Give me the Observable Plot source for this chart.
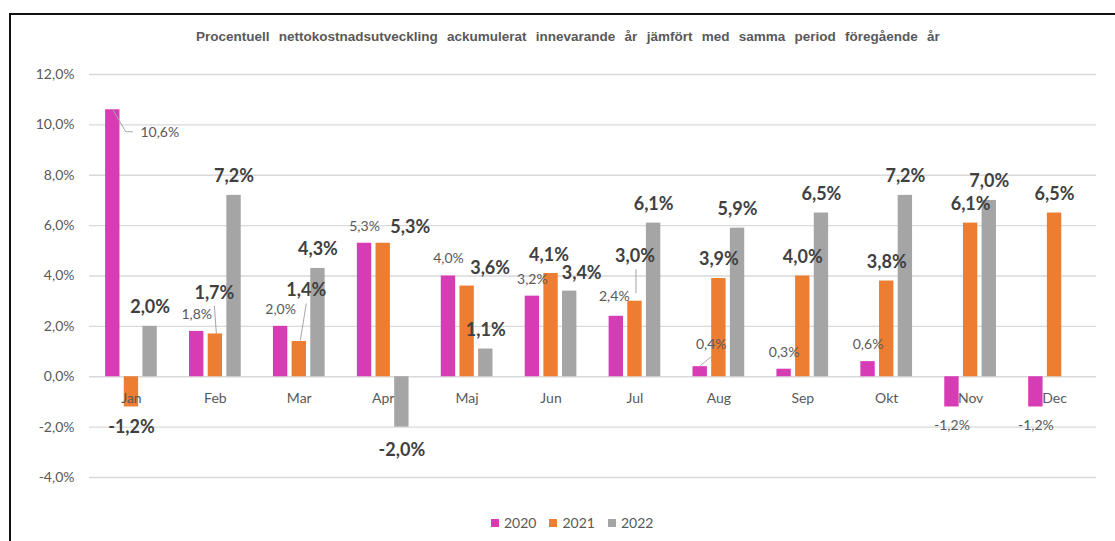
<!DOCTYPE html>
<html>
<head>
<meta charset="utf-8">
<script src="https://cdn.jsdelivr.net/npm/d3@7"></script>
<script src="https://cdn.jsdelivr.net/npm/@observablehq/plot@0.6"></script>
<style>
  body { margin: 0; background: #fff; }
  #wrap { position: relative; width: 1115px; height: 541px; overflow: hidden; background: #fff; }
  #wrap svg { position: absolute; left: 0; top: 0; background: transparent; }
  #frame { position: absolute; left: 9px; top: 13px; width: 1200px; height: 600px;
           border-left: 2px solid #111; border-top: 2px solid #111; }
  #title { position: absolute; left: 196px; top: 29px; white-space: nowrap;
           font-family: "Liberation Sans", Arial, sans-serif; font-weight: bold; font-size: 13.5px;
           color: #595959; word-spacing: 5.5px; }
  #legend { position: absolute; left: 491px; top: 514px; display: flex; align-items: center;
            font-family: Lato, sans-serif; font-size: 14px; color: #595959; }
  #legend .item { display: flex; align-items: center; margin-right: 13px; }
  #legend .sw { width: 8px; height: 8px; margin-right: 5px; }
</style>
</head>
<body>
<div id="wrap">
  <div id="frame"></div>
  <div id="title"></div>
  <div id="legend"></div>
</div>
<script>
// ---- data ----
const titleText = "Procentuell nettokostnadsutveckling ackumulerat innevarande år jämfört med samma period föregående år";
const months = ["Jan", "Feb", "Mar", "Apr", "Maj", "Jun", "Jul", "Aug", "Sep", "Okt", "Nov", "Dec"];
const years = ["2020", "2021", "2022"];
const v2020 = [10.6, 1.8, 2.0, 5.3, 4.0, 3.2, 2.4, 0.4, 0.3, 0.6, -1.2, -1.2];
const v2021 = [-1.2, 1.7, 1.4, 5.3, 3.6, 4.1, 3.0, 3.9, 4.0, 3.8, 6.1, 6.5];
const v2022 = [2.0, 7.2, 4.3, -2.0, 1.1, 3.4, 6.1, 5.9, 6.5, 7.2, 7.0, null];
const yTicks = [-4, -2, 0, 2, 4, 6, 8, 10, 12];
const colors = ["#D63CB4", "#ED7D31", "#A5A5A5"];

// label nudges in pixels (manually placed data labels, as in the original)
const labelNudges = {
  "Jan-2020": [47, 23], "Jul-2020": [-2, -20], "Aug-2020": [11, -22],
  "Feb-2021": [-1, -41], "Mar-2021": [7, -51], "Apr-2021": [27, -16], "Maj-2021": [23, -18],
  "Jun-2021": [-2, -18], "Jul-2021": [0, -45],
  "Jun-2022": [12, -18], "Apr-2022": [0, 23]
};
// leader lines: [start offset, end offset] in pixels from bar end
const leaderNudges = [
  ["Jan", "2020", [0, 0], [13, 22]],
  ["Jan", "2020", [13, 22], [20, 22]],
  ["Aug", "2020", [0, -1], [11, -10]],
  ["Feb", "2021", [1, 0], [-1, -28]],
  ["Mar", "2021", [1, -1], [7, -38]],
  ["Jul", "2021", [1, -8], [1, -32]]
];

// ---- build ----
const series = [v2020, v2021, v2022];
const rows = [];
months.forEach((m, i) => series.forEach((arr, j) => {
  if (arr[i] != null) rows.push({month: m, year: years[j], value: arr[i]});
}));
const valueOf = (m, y) => series[years.indexOf(y)][months.indexOf(m)];
const fmt = v => v.toFixed(1).replace(".", ",") + "%";

const W = 1115, H = 541;
const margins = {marginLeft: 89, marginRight: 19, marginTop: 74, marginBottom: 64};
const yScale = {domain: [-4, 12]};

// background: gridlines + y axis
const bg = Plot.plot({
  width: W, height: H, ...margins,
  style: {background: "transparent", fontFamily: "Lato", fontSize: "14px", color: "#595959"},
  y: {...yScale, ticks: yTicks, tickFormat: fmt, tickSize: 0, tickPadding: 15, label: null},
  marks: [
    Plot.ruleY(yTicks, {stroke: "#D9D9D9", strokeWidth: 1.3}),
    Plot.axisY(yTicks, {tickFormat: fmt, tickSize: 0, tickPadding: 15, label: null, fill: "#595959", fontSize: 14, fontFamily: "Lato"})
  ]
});

const segs = leaderNudges.map(([m, y, a, b]) => ({month: m, year: y, value: valueOf(m, y), a, b}));

const labelMarks = rows.map(r => {
  const bold = r.year !== "2020";
  const def = [0, r.value >= 0 ? (bold ? -19 : -17) : (bold ? 20 : 19)];
  const [dx, dy] = labelNudges[r.month + "-" + r.year] ?? def;
  return Plot.text([r], {
    fx: "month", x: "year", y: "value", text: d => fmt(d.value), dx, dy,
    fontSize: bold ? 18 : 14, fontWeight: bold ? "bold" : "normal",
    fill: bold ? "#404040" : "#595959", fontFamily: "Lato"
  });
});

const fg = Plot.plot({
  width: W, height: H, ...margins,
  style: {background: "transparent", fontFamily: "Lato"},
  fx: {domain: months, paddingInner: 0.384, paddingOuter: 0.192, round: false, axis: null, label: null},
  x: {domain: years, paddingInner: 0.23, paddingOuter: 0, round: false, axis: null},
  y: {...yScale, axis: null},
  color: {domain: years, range: colors},
  marks: [
    Plot.barY(rows, {fx: "month", x: "year", y: "value", fill: "year"}),
    Plot.text(months, {fx: d => d, y: d => 0, text: d => d, dy: 22, fill: "#595959", fontSize: 14, fontFamily: "Lato"}),
    Plot.link(segs, {
      fx: "month", x1: "year", x2: "year", y1: "value", y2: "value",
      stroke: "#A6A6A6", strokeWidth: 1,
      render(index, scales, values, dimensions, context, next) {
        const n = segs.length;
        const X1 = new Float64Array(n), X2 = new Float64Array(n), Y1 = new Float64Array(n), Y2 = new Float64Array(n);
        for (const i of index) {
          X1[i] = values.x1[i] + segs[i].a[0]; Y1[i] = values.y1[i] + segs[i].a[1];
          X2[i] = values.x2[i] + segs[i].b[0]; Y2[i] = values.y2[i] + segs[i].b[1];
        }
        return next(index, scales, {...values, x1: X1, x2: X2, y1: Y1, y2: Y2}, dimensions, context);
      }
    }),
    ...labelMarks
  ]
});

const wrap = document.getElementById("wrap");
wrap.appendChild(bg);
wrap.appendChild(fg);
document.getElementById("title").textContent = titleText;
const legend = document.getElementById("legend");
years.forEach((y, i) => {
  const it = document.createElement("div"); it.className = "item";
  const sw = document.createElement("div"); sw.className = "sw"; sw.style.background = colors[i];
  const t = document.createElement("span"); t.textContent = y;
  it.appendChild(sw); it.appendChild(t); legend.appendChild(it);
});
</script>
</body>
</html>
